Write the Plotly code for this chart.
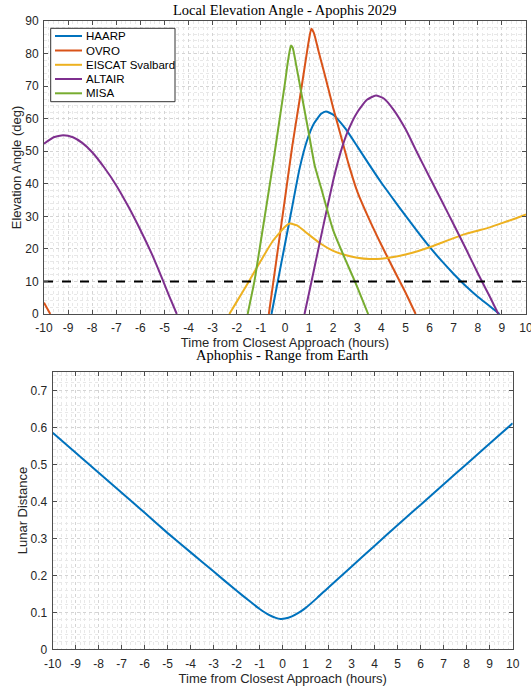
import plotly.graph_objects as go

# ---------------- data ----------------
x_ticks = [-10, -9, -8, -7, -6, -5, -4, -3, -2, -1, 0, 1, 2, 3, 4, 5, 6, 7, 8, 9, 10]
x_tick_labels = ["-10", "-9", "-8", "-7", "-6", "-5", "-4", "-3", "-2", "-1", "0",
                 "1", "2", "3", "4", "5", "6", "7", "8", "9", "10"]
elev_ticks = [0, 10, 20, 30, 40, 50, 60, 70, 80, 90]
range_ticks = [0, 0.1, 0.2, 0.3, 0.4, 0.5, 0.6, 0.7]
range_tick_labels = ["0", "0.1", "0.2", "0.3", "0.4", "0.5", "0.6", "0.7"]

haarp_t = [-0.56, -0.3, 0, 0.3, 0.6, 0.9, 1.2, 1.5, 1.7, 2.0, 2.5, 3.0, 3.5, 4.0, 4.5,
           5.0, 5.5, 6.0, 6.5, 7.0, 7.5, 8.0, 8.5, 8.9]
haarp_el = [0, 10, 21.5, 33, 44.5, 53, 58.5, 61.5, 62.2, 61.2, 57, 51.5, 45.8, 40.3, 35.2,
            30.2, 25.3, 20.6, 16.3, 12.3, 8.6, 5.3, 2.4, 0]

ovro_t = [-10, -9.74, None, -0.67, -0.3, 0, 0.3, 0.6, 0.85, 1.0, 1.09, 1.2, 1.4, 1.65, 2.0,
          2.3, 2.62, 3.0, 3.5, 4.0, 4.5, 5.0, 5.42]
ovro_el = [3.5, 0, None, 0, 19.6, 35.5, 51.5, 65.5, 77.5, 84.5, 87.6, 86.3, 80.5, 73.5, 63.3,
           55.2, 46.5, 37.6, 29.0, 21.2, 13.8, 6.6, 0]

eiscat_t = [-2.31, -2.0, -1.5, -1.0, -0.5, 0, 0.2, 0.5, 1.0, 1.5, 2.0, 2.5, 3.0, 3.5, 4.0,
            4.5, 5.0, 5.5, 6.0, 6.5, 7.0, 7.5, 8.0, 8.5, 9.0, 9.5, 10]
eiscat_el = [0, 3.8, 10, 16.4, 22.5, 26.8, 27.8, 27.2, 24.3, 21.5, 19.4, 18.1, 17.3, 16.9, 17.0,
             17.5, 18.3, 19.3, 20.5, 21.9, 23.3, 24.6, 25.6, 26.6, 27.9, 29.2, 30.6]

altair_t = [-10, -9.6, -9.2, -8.8, -8.4, -8.0, -7.5, -7.0, -6.5, -6.0, -5.5, -5.05, -4.8, -4.49,
            None, 0.81, 1.1, 1.5, 2.0, 2.3, 2.6, 3.0, 3.4, 3.77, 4.1, 4.5, 5.0, 5.5, 6.0, 6.5,
            7.0, 7.5, 8.0, 8.5, 8.85]
altair_el = [52.3, 54.3, 54.9, 54.3, 52.5, 49.7, 45, 39.5, 33, 25.8, 18, 10, 5.4, 0,
             None, 0, 10, 24, 41, 49.5, 56, 62, 65.8, 67.1, 66.2, 62.8, 56.8, 49.3, 42, 34.8,
             27.5, 20.1, 12.5, 5.3, 0]

misa_t = [-1.55, -1.27, -1.0, -0.5, -0.2, 0.0, 0.1, 0.2, 0.25, 0.32, 0.45, 0.67, 1.0, 1.23,
          1.5, 2.0, 2.5, 2.9, 3.2, 3.45]
misa_el = [0, 10, 22.5, 46, 61, 71, 76.5, 81, 82.5, 81.8, 77, 68.2, 55, 45.7,
           38.7, 25.7, 16.8, 10, 4.6, 0]

threshold_t = [-10, 10]
threshold_el = [10, 10]

range_t = [-10, -9, -8, -7, -6, -5, -4, -3, -2, -1.5, -1, -0.6, -0.3, -0.1, 0.1, 0.4, 0.7,
           1, 1.5, 2, 3, 4, 5, 6, 7, 8, 9, 10]
range_ld = [0.585, 0.531, 0.477, 0.423, 0.369, 0.314, 0.262, 0.21, 0.158, 0.133, 0.109, 0.093,
            0.085, 0.082, 0.083, 0.089, 0.099, 0.112, 0.139, 0.168, 0.224, 0.28, 0.336, 0.391,
            0.446, 0.501, 0.556, 0.611]

station_names = ["HAARP", "OVRO", "EISCAT Svalbard", "ALTAIR", "MISA"]
station_colors = ["#0072BD", "#D95319", "#EDB120", "#7E2F8E", "#77AC30"]

# ---------------- figure ----------------
W, H = 531, 687
fig = go.Figure()


def px(x):                   # window pixel x -> paper fraction
    return x / W


def py(y):                   # window pixel y -> paper fraction
    return (H - y) / H


series = [(haarp_t, haarp_el), (ovro_t, ovro_el), (eiscat_t, eiscat_el),
          (altair_t, altair_el), (misa_t, misa_el)]
for (t, el), name, col in zip(series, station_names, station_colors):
    fig.add_trace(go.Scatter(x=t, y=el, mode="lines", name=name, showlegend=False,
                             line=dict(color=col, width=2, shape="spline", smoothing=0.5),
                             xaxis="x", yaxis="y", connectgaps=False))

fig.add_trace(go.Scatter(x=threshold_t, y=threshold_el, mode="lines", showlegend=False,
                         line=dict(color="black", width=2, dash="dash"),
                         xaxis="x", yaxis="y"))

fig.add_trace(go.Scatter(x=range_t, y=range_ld, mode="lines", showlegend=False,
                         line=dict(color="#0072BD", width=2, shape="spline", smoothing=0.5),
                         xaxis="x2", yaxis="y2"))

axis_col = "#4d4d4d"
text_col = "#262626"
sans = "Liberation Sans, Arial, Helvetica, sans-serif"
serif = "Liberation Serif, Times New Roman, serif"
tick_font = dict(family=sans, size=12, color=text_col)
title_font = dict(family=sans, size=13, color=text_col)


def common_axis(**kw):
    d = dict(showline=True, linecolor=axis_col, linewidth=1, mirror="ticks",
             ticks="inside", ticklen=4, tickcolor=axis_col, tickwidth=1,
             showgrid=True, gridcolor="#d4d4d4", griddash="dot", gridwidth=1,
             zeroline=False, tickfont=tick_font, title_font=title_font, automargin=False,
             ticklabeloverflow="allow")
    d.update(kw)
    return d


def minor(t0, dt):
    return dict(tick0=t0, dtick=dt, showgrid=True, gridcolor="#e8e8e8",
                griddash="dot", gridwidth=1)


top_dom_x = [px(44), px(526)]
top_dom_y = [py(314), py(21)]
bot_dom_x = [px(52.7), px(512.7)]
bot_dom_y = [py(649.3), py(371.8)]

# ---- compact MATLAB-style legend box ----
shapes = [dict(type="rect", xref="paper", yref="paper",
               x0=px(50.7), x1=px(175), y0=py(101.7), y1=py(28.3),
               line=dict(color="#333333", width=1), fillcolor="white", layer="above")]
annotations = []
row_y = [36, 50.5, 64.8, 79, 93.3]
for name, col, ry in zip(station_names, station_colors, row_y):
    shapes.append(dict(type="line", xref="paper", yref="paper",
                       x0=px(55), x1=px(82), y0=py(ry), y1=py(ry),
                       line=dict(color=col, width=2), layer="above"))
    annotations.append(dict(text=name, x=px(83.5), y=py(ry), xref="paper", yref="paper",
                            showarrow=False, xanchor="left", yanchor="middle",
                            font=dict(family=sans, size=11.5, color="black")))

annotations += [
    dict(text="Local Elevation Angle - Apophis 2029", x=px(285), y=py(10),
         xref="paper", yref="paper", showarrow=False, xanchor="center", yanchor="middle",
         font=dict(family=serif, size=14.5, color="black")),
    dict(text="Aphophis - Range from Earth", x=px(282.7), y=py(355),
         xref="paper", yref="paper", showarrow=False, xanchor="center", yanchor="middle",
         font=dict(family=serif, size=14.5, color="black")),
]

fig.update_layout(
    width=W, height=H,
    margin=dict(l=0, r=0, t=0, b=0),
    paper_bgcolor="white", plot_bgcolor="white",
    showlegend=False,
    xaxis=common_axis(domain=top_dom_x, anchor="y", range=[-10, 10],
                      tickmode="array", tickvals=x_ticks, ticktext=x_tick_labels,
                      ticklabelstandoff=3, minor=minor(-10, 0.2),
                      title=dict(text="Time from Closest Approach (hours)", standoff=0)),
    yaxis=common_axis(domain=top_dom_y, anchor="x", range=[0, 90],
                      tickmode="array", tickvals=elev_ticks,
                      ticklabelstandoff=2, minor=minor(0, 2),
                      title=dict(text="Elevation Angle (deg)", standoff=0)),
    xaxis2=common_axis(domain=bot_dom_x, anchor="y2", range=[-10, 10],
                       tickmode="array", tickvals=x_ticks, ticktext=x_tick_labels,
                       ticklabelstandoff=3, minor=minor(-10, 0.2),
                       title=dict(text="Time from Closest Approach (hours)", standoff=0)),
    yaxis2=common_axis(domain=bot_dom_y, anchor="x2", range=[0, 0.75],
                       tickmode="array", tickvals=range_ticks, ticktext=range_tick_labels,
                       ticklabelstandoff=2, minor=minor(0, 0.02),
                       title=dict(text="Lunar Distance", standoff=0)),
    shapes=shapes,
    annotations=annotations,
)

# remove the browser's default 8px page margin so the figure fills the window
fig.write_html("out.html",
               config={"displayModeBar": False},
               post_script="document.body.style.margin='0px';"
                           "document.body.style.overflow='hidden';")
